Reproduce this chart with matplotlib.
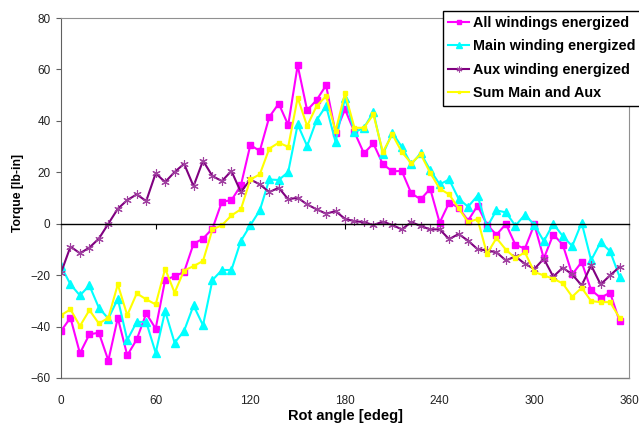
import numpy as np
import matplotlib
matplotlib.use("Agg")
import matplotlib.pyplot as plt

plt.rcParams['font.family'] = ['Liberation Sans', 'DejaVu Sans']

# rotor angle, one reading every 6 edeg
rot_angle = list(range(0, 360, 6))

all_windings = [-41.7, -36.6, -50.4, -43.0, -42.4, -53.2, -36.6, -51.2, -45.0, -34.9,
                -40.8, -21.9, -20.4, -18.8, -7.8, -5.8, -1.9, 8.6, 9.1, 14.9,
                30.6, 28.3, 41.5, 46.7, 38.4, 61.6, 44.1, 48.1, 53.8, 35.4,
                44.5, 35.6, 27.4, 31.2, 23.1, 20.4, 20.5, 11.8, 9.5, 13.6,
                0.4, 8.2, 6.3, 1.2, 7.0, -0.4, -4.3, -0.1, -8.2, -9.7,
                -0.3, -13.5, -4.2, -8.1, -19.7, -14.9, -25.8, -28.8, -26.8, -37.9]

main_winding = [-16.5, -23.6, -27.9, -24.0, -32.7, -36.9, -29.2, -45.2, -38.2, -38.2,
                -50.2, -34.0, -46.3, -41.7, -31.8, -39.5, -21.9, -18.0, -18.0, -6.7,
                -0.6, 5.2, 17.2, 17.0, 20.1, 38.6, 30.2, 40.3, 45.8, 31.8,
                49.0, 35.6, 37.3, 43.4, 27.0, 35.4, 29.9, 23.1, 27.4, 20.9,
                15.3, 17.2, 9.7, 6.6, 10.9, -1.3, 5.2, 4.4, -0.8, 3.5,
                -0.4, -6.8, 0.0, -4.8, -8.7, 0.4, -14.2, -7.2, -10.7, -20.6]

aux_winding = [-19.1, -8.9, -11.5, -9.3, -5.8, 0.0, 5.8, 9.2, 11.4, 8.8,
               19.6, 16.2, 20.1, 23.3, 14.6, 24.5, 18.5, 16.6, 20.5, 12.3,
               17.2, 15.3, 12.3, 14.0, 9.5, 10.1, 7.5, 5.6, 3.9, 4.9,
               1.9, 1.0, 0.6, -0.5, 0.8, -0.5, -2.2, 0.6, -0.9, -2.2,
               -2.2, -6.0, -4.0, -6.6, -9.9, -10.4, -11.1, -14.3, -12.7, -15.6,
               -17.6, -13.6, -20.6, -17.1, -19.7, -24.0, -16.2, -23.6, -20.1, -16.8]

sum_main_aux = [-35.6, -33.3, -39.8, -33.6, -38.8, -36.6, -23.6, -35.6, -27.1, -29.4,
                -31.4, -17.5, -26.8, -18.2, -16.5, -14.5, -2.2, -0.6, 3.2, 5.6,
                17.2, 19.2, 29.2, 31.5, 29.9, 49.0, 38.0, 45.8, 49.6, 36.0,
                50.7, 37.3, 37.3, 42.5, 27.9, 34.7, 27.9, 23.5, 27.0, 19.8,
                13.6, 11.4, 6.0, 0.6, 1.8, -11.7, -5.6, -10.1, -13.4, -11.1,
                -18.8, -20.1, -21.4, -23.2, -28.4, -24.9, -30.1, -30.5, -30.5, -36.6]

x_ticks = [0, 60, 120, 180, 240, 300, 360]
y_ticks = [-60, -40, -20, 0, 20, 40, 60, 80]

fig = plt.figure(figsize=(6.39, 4.28), dpi=100)
ax = fig.add_axes([61/639, 1-378/428, 568/639, 360/428])

ax.plot(rot_angle, all_windings, color='#FF00FF', lw=1.5, marker='s', ms=5,
        label='All windings energized')
ax.plot(rot_angle, main_winding, color='#00FFFF', lw=1.5, marker='^', ms=6,
        label='Main winding energized')
ax.plot(rot_angle, aux_winding, color='#800080', lw=1.5, marker=(6, 2, 0), ms=6,
        mew=0.8, mec='#A040A0', label='Aux winding energized')
ax.plot(rot_angle, sum_main_aux, color='#FFFF00', lw=1.5, marker='s', ms=2.5,
        label='Sum Main and Aux')

ax.set_xlim(0, 360)
ax.set_ylim(-60, 80)

# horizontal axis crosses at zero, labels stay at the bottom
ax.spines['bottom'].set_position(('data', 0))
ax.spines['bottom'].set_color('black')
ax.spines['bottom'].set_linewidth(1.0)
ax.set_xticks(x_ticks)
ax.tick_params(axis='x', direction='out', length=3.6, width=0.8, color='black',
               labelbottom=False)

sec = ax.secondary_xaxis('bottom')
sec.set_xticks(x_ticks)
sec.tick_params(length=0, pad=12, labelsize=8.5, labelcolor='#222222')
sec.spines['bottom'].set_color('#808080')
sec.spines['bottom'].set_linewidth(1.0)
sec.set_xlabel('Rot angle [edeg]', fontsize=10.5, fontweight='bold', labelpad=1.5)

ax.set_yticks(y_ticks)
ax.tick_params(axis='y', direction='out', length=3.6, width=0.8, color='#606060',
               pad=4, labelsize=8.5, labelcolor='#222222')
ax.spines['left'].set_color('#606060')
for s in ['top', 'right']:
    ax.spines[s].set_color('#909090')
ax.set_ylabel('Torque [lb-in]', fontsize=8.7, fontweight='bold')
ax.yaxis.set_label_coords(-0.065, 0.513)

leg = ax.legend(loc='upper left', bbox_to_anchor=(443/639, 1-10.5/428),
                bbox_transform=fig.transFigure, borderaxespad=0, fancybox=False,
                edgecolor='black', framealpha=1, numpoints=1, handlelength=1.45,
                handletextpad=0.25, labelspacing=0.66, borderpad=0.36,
                markerscale=0.7, prop={'size': 10.4, 'weight': 'bold'})
leg.get_frame().set_linewidth(1.0)

fig.savefig('out.png', dpi=100)
